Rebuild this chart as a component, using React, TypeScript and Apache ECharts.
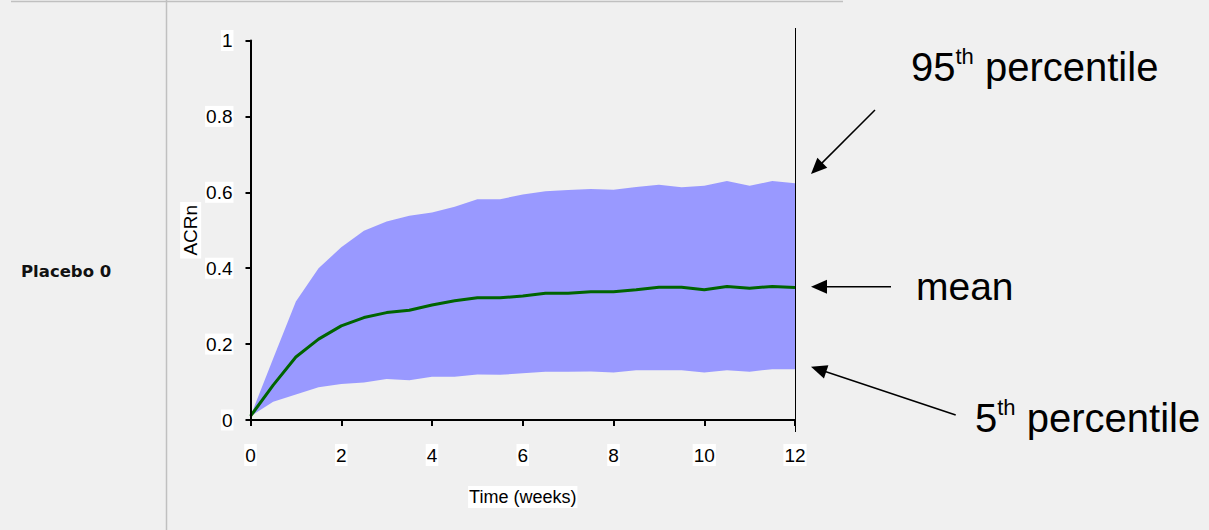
import React, { useEffect, useRef } from "react";
import * as echarts from "echarts";

const weeks = [0, 0.5, 1, 1.5, 2, 2.5, 3, 3.5, 4, 4.5, 5, 5.5, 6, 6.5, 7, 7.5, 8, 8.5, 9, 9.5, 10, 10.5, 11, 11.5, 12];
const p95 = [0.01, 0.162, 0.312, 0.4, 0.455, 0.499, 0.523, 0.538, 0.547, 0.562, 0.582, 0.582, 0.594, 0.603, 0.606, 0.609, 0.607, 0.614, 0.62, 0.613, 0.617, 0.63, 0.617, 0.63, 0.624];
const meanVals = [0.01, 0.092, 0.166, 0.213, 0.248, 0.27, 0.283, 0.289, 0.303, 0.314, 0.322, 0.322, 0.327, 0.334, 0.334, 0.338, 0.338, 0.343, 0.35, 0.35, 0.343, 0.352, 0.347, 0.352, 0.349];
const p5 = [0.01, 0.048, 0.067, 0.086, 0.095, 0.099, 0.108, 0.105, 0.114, 0.114, 0.12, 0.119, 0.123, 0.127, 0.127, 0.128, 0.125, 0.131, 0.131, 0.131, 0.125, 0.131, 0.127, 0.134, 0.134];

const xTicks = { min: 0, max: 12, interval: 2 };
const yTicks = { min: 0, max: 1, interval: 0.2 };

const groupLabel = "Placebo 0";
const xName = "Time (weeks)";
const yName = "ACRn";

const BG = "#f0f0f0";
const BAND = "#9999ff";
const NARROW = "'Liberation Sans Narrow', 'Arial Narrow', 'Liberation Sans', sans-serif";
const SANS = "'Liberation Sans', Arial, sans-serif";

function arrow(x1: number, y1: number, x2: number, y2: number) {
  const dx = x2 - x1, dy = y2 - y1;
  const L = Math.hypot(dx, dy);
  const ux = dx / L, uy = dy / L;
  const hl = 16, hw = 7;
  const bx = x2 - ux * hl, by = y2 - uy * hl;
  return [
    { type: "line", shape: { x1, y1, x2: bx + ux, y2: by + uy }, style: { stroke: "#000", lineWidth: 1.5 } },
    {
      type: "polygon",
      shape: { points: [[x2, y2], [bx - uy * hw, by + ux * hw], [bx + uy * hw, by - ux * hw]] },
      style: { fill: "#000" },
    },
  ];
}

function annot(x: number, y: number, num: string, rest: string) {
  return {
    type: "text",
    x,
    y,
    style: {
      text: `{n|${num}}{s|th}{n| ${rest}}`,
      fill: "#000",
      fontFamily: SANS,
      textAlign: "left",
      textVerticalAlign: "top",
      rich: {
        n: { fontSize: 40, lineHeight: 44, fontFamily: SANS, fill: "#000" },
        s: { fontSize: 22, lineHeight: 26, verticalAlign: "top", fontFamily: SANS, fill: "#000" },
      },
    },
  };
}

export default function App() {
  const ref = useRef<HTMLDivElement>(null);
  useEffect(() => {
    if (!ref.current) return;
    const chart = echarts.init(ref.current, null, { renderer: "svg" });
    const upper = weeks.map((w, i) => [w, p95[i]]);
    const lower = weeks.map((w, i) => [w, p5[i]]);
    const mean = weeks.map((w, i) => [w, meanVals[i]]);
    const labelFont = { fontFamily: NARROW, fontSize: 19, color: "#000", backgroundColor: "#fff" };
    chart.setOption({
      animation: false,
      backgroundColor: BG,
      grid: { left: 250.5, right: 414, top: 40.5, bottom: 110, containLabel: false },
      xAxis: {
        type: "value",
        ...xTicks,
        offset: 12,
        name: xName,
        nameLocation: "middle",
        nameGap: 54,
        nameTextStyle: { ...labelFont, fontSize: 18, padding: [2, 1, 2, 1] },
        axisLine: { show: true, lineStyle: { color: "#000", width: 2 } },
        axisTick: { show: true, length: 6, lineStyle: { color: "#000", width: 2 } },
        axisLabel: { ...labelFont, padding: [2, 1, 1, 1], margin: 12 },
        splitLine: { show: false },
        z: 5,
      },
      yAxis: {
        type: "value",
        ...yTicks,
        offset: 10,
        name: yName,
        nameLocation: "middle",
        nameGap: 37,
        nameRotate: 90,
        nameTextStyle: { ...labelFont, fontSize: 19, padding: [1, 3, 1, 3] },
        axisLine: { show: true, lineStyle: { color: "#000", width: 2 } },
        axisTick: { show: true, length: 5, lineStyle: { color: "#000", width: 2 } },
        axisLabel: { ...labelFont, padding: [1, 1, 1, 1], margin: 7 },
        splitLine: { show: false },
        z: 5,
      },
      series: [
        {
          type: "line",
          name: "p95",
          data: upper,
          symbol: "none",
          lineStyle: { width: 0, opacity: 0 },
          areaStyle: { color: BAND, opacity: 1, origin: "start" },
          silent: true,
          z: 1,
        },
        {
          type: "line",
          name: "p5",
          data: lower,
          symbol: "none",
          lineStyle: { width: 0, opacity: 0 },
          areaStyle: { color: BG, opacity: 1, origin: "start" },
          silent: true,
          z: 2,
        },
        {
          type: "line",
          name: "mean",
          data: mean,
          symbol: "none",
          lineStyle: { color: "#006400", width: 3 },
          z: 3,
        },
      ],
      graphic: [
        { type: "line", shape: { x1: 11, y1: 1.5, x2: 843, y2: 1.5 }, style: { stroke: "#c0c0c0", lineWidth: 1.5 } },
        { type: "line", shape: { x1: 166.5, y1: 0, x2: 166.5, y2: 530 }, style: { stroke: "#c0c0c0", lineWidth: 1.5 } },
        { type: "line", shape: { x1: 795.5, y1: 28, x2: 795.5, y2: 432 }, style: { stroke: "#000", lineWidth: 1 } },
        {
          type: "text",
          x: 21,
          y: 271,
          style: { text: groupLabel, fill: "#111", fontFamily: "'DejaVu Sans', sans-serif", fontWeight: "bold", fontSize: 16.5, textAlign: "left", textVerticalAlign: "middle" },
        },
        annot(911, 45, "95", "percentile"),
        annot(975, 396, "5", "percentile"),
        {
          type: "text",
          x: 916,
          y: 286.5,
          style: { text: "mean", fill: "#000", fontFamily: SANS, fontSize: 39, textAlign: "left", textVerticalAlign: "middle" },
        },
        ...arrow(875, 110, 811, 174),
        ...arrow(891, 286.7, 811, 286.7),
        ...arrow(955.7, 415, 811, 366.7),
      ],
    });
    return () => chart.dispose();
  }, []);
  return <div ref={ref} style={{ position: "absolute", left: 0, top: 0, width: 1209, height: 530 }} />;
}
